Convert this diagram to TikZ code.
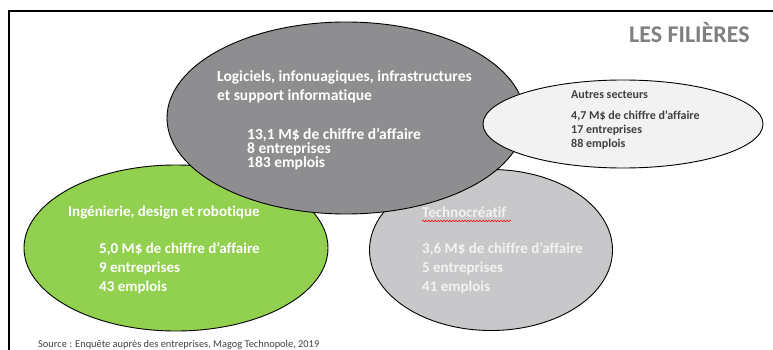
\documentclass[tikz,border=0pt]{standalone}
\usepackage{fontspec}
\setmainfont[Ligatures=NoCommon]{Carlito}
\usetikzlibrary{shapes.geometric,decorations.pathmorphing}
\definecolor{grisfonce}{HTML}{8E8E91}
\definecolor{vertlime}{HTML}{92D050}
\definecolor{grisclair}{HTML}{C8C8CA}
\definecolor{grisblanc}{HTML}{F2F2F2}
\definecolor{gristitre}{HTML}{7F7F7F}
\definecolor{grissource}{HTML}{404040}
\begin{document}
\begin{tikzpicture}[x=1pt,y=-1pt,
    bulle/.style={ellipse,draw=black,line width=0.9pt,inner sep=0pt},
    texte/.style={anchor=base west,inner sep=0pt,align=left,text=white,
      font=\bfseries\fontsize{15}{19}\selectfont},
    petit/.style={anchor=base west,inner sep=0pt,align=left,text=grissource,
      font=\bfseries\fontsize{12}{14}\selectfont}]
        \useasboundingbox (0,0) rectangle (773,350);
        \fill[white] (0,0) rectangle (773,350);
        \draw[line width=1.5pt] (9,350) -- (9,11) -- (773,11);

        % bulles
        \node[bulle,fill=vertlime,minimum width=304pt,minimum height=166pt] (ingenierie) at (176,248) {};
        \node[bulle,fill=grisclair,minimum width=243pt,minimum height=161pt] (techno) at (491,250) {};
        \node[bulle,fill=grisfonce,minimum width=358pt,minimum height=192pt] (logiciels) at (346,118) {};
        \node[bulle,fill=grisblanc,minimum width=280pt,minimum height=88pt] (autres) at (623,124) {};

        % textes (ancre = ligne de base de la derniere ligne)
        \node[texte,font=\bfseries\fontsize{15.5}{19}\selectfont] (logtitre) at (217,101) {Logiciels, infonuagiques, infrastructures\\et support informatique};
        \node[texte,font=\bfseries\fontsize{15.5}{14}\selectfont] (logchiffres) at (247,167) {13,1 M\$ de chiffre d’affaire\\8 entreprises\\183 emplois};
        \node[petit] (autrestitre) at (571,99) {Autres secteurs};
        \node[petit] (autreschiffres) at (571,147) {4,7 M\$ de chiffre d’affaire\\17 entreprises\\88 emplois};
        \node[texte] (ingtitre) at (68,216) {Ingénierie, design et robotique};
        \node[texte] (ingchiffres) at (99,291) {5,0 M\$ de chiffre d’affaire\\9 entreprises\\43 emplois};
        \node[texte,text=grisblanc] (technotitre) at (422,217) {Technocréatif};
        \node[texte,text=grisblanc] (technochiffres) at (422,291) {3,6 M\$ de chiffre d’affaire\\5 entreprises\\41 emplois};
        \draw[red,line width=0.5pt,decorate,decoration={snake,amplitude=0.8pt,segment length=3pt}]
         (technotitre.base west) ++(0,4) -- ++(89,0);

        \node[anchor=base west,inner sep=0pt,text=gristitre,font=\bfseries\fontsize{24}{28}\selectfont] (filieres) at (629,43) {LES FILIÈRES};
        \node[anchor=base west,inner sep=0pt,text=grissource,font=\fontsize{10.4}{12}\selectfont] (source) at (38,347) {Source : Enquête auprès des entreprises, Magog Technopole, 2019};
       \end{tikzpicture}
\end{document}
